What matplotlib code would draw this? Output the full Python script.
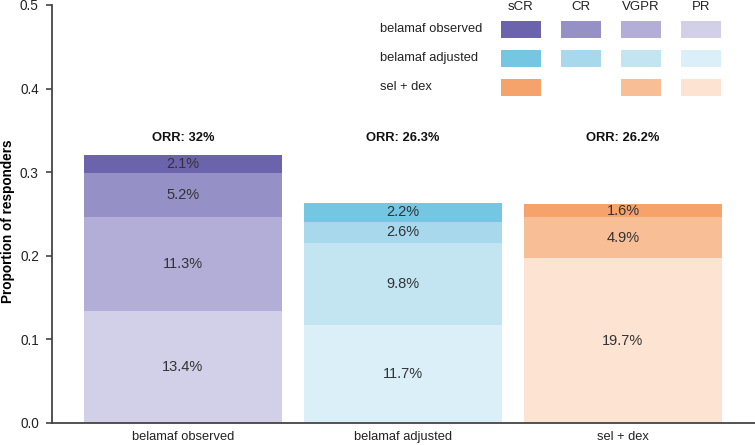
import matplotlib
matplotlib.use("Agg")
import matplotlib.pyplot as plt
from matplotlib.patches import Rectangle
import numpy as np

# data (percent of patients)
groups = ["belamaf observed", "belamaf adjusted", "sel + dex"]
responses = ["PR", "VGPR", "CR", "sCR"]  # bottom to top
pr = [13.4, 11.7, 19.7]
vgpr = [11.3, 9.8, 4.9]
cr = [5.2, 2.6, 0.0]
scr = [2.1, 2.2, 1.6]
orr = ["32", "26.3", "26.2"]

colors = {
    "belamaf observed": {"sCR": "#6c63ad", "CR": "#9590c6", "VGPR": "#b3aed8", "PR": "#d2cfe8"},
    "belamaf adjusted": {"sCR": "#75c6e2", "CR": "#a8d8ec", "VGPR": "#c3e4f1", "PR": "#daeff7"},
    "sel + dex": {"sCR": "#f5a36a", "VGPR": "#f8bf96", "PR": "#fce3d2"},
}

plt.rcParams["font.family"] = ["Liberation Sans", "DejaVu Sans"]

fig = plt.figure(figsize=(7.55, 4.45), dpi=100)
ax = fig.add_axes([52 / 755, 22 / 445, 703 / 755, 418 / 445])

x = np.arange(len(groups))
series = {"PR": pr, "VGPR": vgpr, "CR": cr, "sCR": scr}
bottom = np.zeros(len(groups))
for r in responses:
    vals = np.array(series[r]) / 100
    for i, g in enumerate(groups):
        if vals[i] <= 0:
            continue
        ax.bar(x[i], vals[i], bottom=bottom[i], width=0.9,
               color=colors[g][r], edgecolor="none")
        ax.text(x[i], bottom[i] + vals[i] / 2, f"{series[r][i]}%",
                ha="center", va="center", fontsize=10.5, color="#333333")
    bottom += vals

for i in range(len(groups)):
    ax.text(x[i], 0.341, f"ORR: {orr[i]}%", ha="center", va="center",
            fontsize=9.3, fontweight="bold", color="#111111")

ax.set_xlim(-0.595, 2.6)
ax.set_ylim(0, 0.5)
ax.set_yticks(np.arange(0, 0.51, 0.1))
ax.set_yticklabels([f"{v:.1f}" for v in np.arange(0, 0.51, 0.1)])
ax.set_xticks(x)
ax.set_xticklabels(groups)
ax.tick_params(axis="x", length=0, pad=6, labelsize=9.3, colors="#222222")
ax.tick_params(axis="y", length=4.5, width=1.2, pad=5, color="#444444",
               labelsize=9.8, labelcolor="#222222")
for s in ["top", "right"]:
    ax.spines[s].set_visible(False)
for s in ["left", "bottom"]:
    ax.spines[s].set_color("#444444")
    ax.spines[s].set_linewidth(1.3)
ax.set_ylabel("Proportion of responders", fontsize=9.8, fontweight="bold")
ax.yaxis.set_label_coords(-0.052, 0.483)

# custom legend grid (axes fraction coords)
def fx(px):
    return (px - 52) / 703

def fy(py):
    return (423 - py) / 418

col_centers = [521, 581, 641, 701]
legend_cols = ["sCR", "CR", "VGPR", "PR"]
row_centers = [29.5, 58.5, 87.5]
for c, name in zip(col_centers, legend_cols):
    ax.text(fx(c), fy(6.5), name, transform=ax.transAxes, ha="center",
            va="center", fontsize=9.5, color="#222222")
for rc, g in zip(row_centers, groups):
    ax.text(fx(380), fy(rc), g, transform=ax.transAxes, ha="left",
            va="center", fontsize=9.3, color="#222222")
    for c, name in zip(col_centers, legend_cols):
        if name not in colors[g]:
            continue
        ax.add_patch(Rectangle((fx(c - 20), fy(rc + 8.5)), 40 / 703, 17 / 418,
                               transform=ax.transAxes, facecolor=colors[g][name],
                               edgecolor="none", clip_on=False))

fig.savefig("out.png", dpi=100)
